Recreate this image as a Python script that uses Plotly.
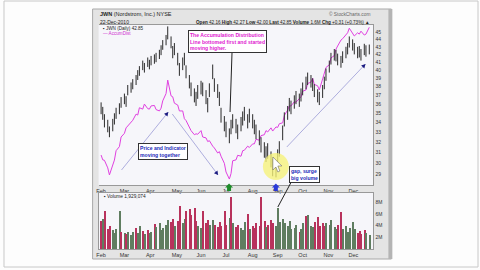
import math
import pandas as pd
import plotly.graph_objects as go

W, H = 480, 270

# ---------------- data ----------------
lows = [34.9, 34.3, 33.5, 33.0, 32.5, 33.1, 33.8, 34.4, 34.9, 35.6,
        36.0, 35.7, 37.0, 37.3, 37.7, 38.2, 38.8, 39.3, 40.0, 39.7,
        40.4, 40.1, 40.6, 40.8, 41.0, 41.4, 41.9, 42.6, 43.2, 44.0,
        42.8, 41.5, 41.9, 40.6, 39.3, 40.0, 40.6, 39.0, 37.8, 36.9,
        36.2, 35.8, 36.6, 37.1, 36.9, 36.0, 35.1, 36.8, 38.9, 37.4,
        36.7, 35.8, 34.0, 33.1, 32.5, 31.9, 32.8, 33.4, 32.9, 32.3,
        33.1, 33.7, 34.2, 33.4, 34.0, 33.4, 32.8, 32.3, 31.7, 31.0,
        30.5, 30.1, 30.4, 29.6, 28.8, 28.7, 29.8, 30.6, 32.2, 33.6,
        34.3, 35.2, 34.9, 35.5, 36.0, 35.7, 36.3, 37.0, 37.7, 38.2,
        37.9, 37.5, 36.8, 36.2, 35.9, 36.7, 37.7, 38.7, 39.7, 40.7,
        41.2, 41.1, 40.6, 40.3, 40.9, 41.5, 42.0, 42.9, 42.5, 42.0,
        41.5, 41.6, 41.2, 41.9, 41.7, 42.0]
highs = [36.2, 35.7, 34.9, 34.3, 33.6, 34.4, 35.0, 35.6, 36.1, 36.8,
         37.2, 36.9, 38.2, 38.5, 38.9, 39.4, 40.0, 40.5, 41.2, 40.9,
         41.6, 41.3, 41.8, 42.0, 42.2, 42.6, 43.2, 43.9, 44.6, 45.8,
         44.4, 43.1, 43.5, 42.2, 40.9, 41.6, 42.2, 40.6, 39.4, 38.5,
         37.8, 37.4, 38.2, 38.7, 38.5, 37.6, 36.7, 38.4, 40.7, 39.0,
         38.3, 37.4, 35.6, 34.7, 34.1, 33.4, 34.3, 34.9, 34.4, 33.8,
         34.6, 35.2, 35.7, 34.9, 35.5, 34.9, 34.3, 33.8, 33.2, 32.5,
         32.0, 31.6, 31.9, 31.1, 30.4, 30.2, 31.3, 32.1, 33.7, 35.1,
         35.8, 36.7, 36.4, 37.0, 37.5, 37.2, 37.8, 38.5, 39.2, 39.7,
         39.4, 39.0, 38.3, 37.7, 37.4, 38.2, 39.2, 40.2, 41.2, 42.2,
         42.7, 42.6, 42.1, 41.8, 42.4, 43.0, 43.5, 44.4, 44.0, 43.5,
         43.0, 43.1, 42.7, 43.4, 43.2, 43.3]
accum_dist = [3.1, 1.0, 0.8, -2.5, -5.6, -1.5, 0.9, 5.0, 6.8, 11.0,
              12.6, 15.0, 15.8, 17.6, 18.3, 21.0, 20.6, 23.8, 23.2, 25.4,
              23.4, 23.2, 24.6, 24.8, 23.0, 22.4, 23.6, 26.8, 30.0, 35.9,
              29.0, 28.6, 25.8, 25.0, 22.4, 22.4, 19.0, 18.2, 15.0, 13.8,
              12.0, 12.4, 12.2, 13.8, 11.0, 10.6, 9.0, 9.4, 7.0, 6.2,
              4.0, 4.6, 2.6, -0.5, -4.3, -7.4, -5.0, 0.6, 1.0, 3.0,
              2.6, 5.0, 5.2, 7.0, 6.4, 8.0, 8.0, 10.0, 9.6, 11.6,
              12.0, 13.8, 13.2, 15.0, 13.6, 15.4, 15.2, 16.8, 17.2, 20.4,
              22.8, 24.6, 24.6, 26.4, 26.2, 28.0, 28.6, 31.0, 31.6, 34.4,
              35.0, 36.8, 34.0, 33.4, 31.6, 36.4, 39.0, 41.4, 42.6, 45.6,
              46.6, 49.4, 50.8, 53.4, 54.0, 56.0, 56.6, 58.6, 56.6, 55.2,
              56.6, 56.0, 57.3, 55.6, 56.0, 59.0]
volume_m = [4.8, 5.2, 6.6, 3.5, 4.0, 3.2, 2.8, 3.4, 6.5, 3.0,
            2.8, 2.6, 3.0, 2.4, 2.9, 3.6, 2.7, 4.0, 3.1, 2.5,
            3.3, 2.7, 3.0, 4.3, 3.8, 4.4, 3.2, 3.6, 4.2, 5.0,
            4.6, 5.2, 3.9, 4.8, 7.4, 4.5, 5.1, 6.5, 6.9, 5.8,
            7.0, 4.8, 4.0, 3.6, 6.6, 4.4, 5.0, 4.2, 4.9, 4.1,
            3.8, 4.6, 4.0, 6.6, 4.2, 5.4, 9.0, 4.5, 3.8, 4.1,
            3.6, 3.2, 4.7, 6.0, 3.4, 4.0, 3.6, 4.4, 3.9, 9.0,
            4.8, 3.8, 4.2, 5.0, 4.4, 4.0, 7.0, 4.6, 5.2, 4.4,
            3.9, 4.8, 3.5, 3.6, 4.1, 3.0, 3.4, 4.5, 5.7, 5.8,
            3.9, 3.7, 4.6, 5.5, 4.0, 4.4, 3.9, 4.5, 4.2, 4.9,
            3.8, 3.5, 4.2, 6.3, 3.4, 3.9, 3.0, 3.6, 4.6, 3.4,
            2.8, 3.1, 2.6, 3.3, 2.7, 2.4]
# direction flag per bar (r = down / red, g = up / green)
volume_dir = list("rgrrrggggr" "grgggrggrg" "rggrgggggg" "rrgrrggrrr"
                  "rrggrrrggr" "rrrrrgrgrr" "gggrgrrrrr" "rgrrrggggg"
                  "gggggrggrg" "ggrrrrrggg" "ggrrgggggg" "rrrrgggggr"
                  "rgrgrg")
month_starts = ["2010-02-01", "2010-03-01", "2010-04-01", "2010-05-03", "2010-06-01",
                "2010-07-01", "2010-08-02", "2010-09-01", "2010-10-01", "2010-11-01",
                "2010-12-01"]
month_labels = ["Feb", "Mar", "Apr", "May", "Jun", "Jul", "Aug", "Sep", "Oct", "Nov", "Dec"]
price_ticks = [29, 30, 31, 32, 33, 34, 35, 36, 37, 38, 39, 40, 41, 42, 43, 44, 45]
volume_ticks = [2, 4, 6, 8]
volume_tick_labels = ["2M", "4M", "6M", "8M"]

dates = pd.bdate_range("2010-02-01", periods=len(lows), freq="2B")

# ---------------- helpers (layout positions in pixels) ----------------
def px(x):
    return x / W

def py(y):
    return 1 - y / H

def rect(x0, y0, x1, y1, fill, line="rgba(0,0,0,0)", lw=0, layer="below"):
    return dict(type="rect", xref="paper", yref="paper", x0=px(x0), x1=px(x1),
                y0=py(y1), y1=py(y0), fillcolor=fill, line=dict(color=line, width=lw),
                layer=layer)

def seg(x0, y0, x1, y1, color, lw=1):
    return dict(type="line", xref="paper", yref="paper", x0=px(x0), y0=py(y0),
                x1=px(x1), y1=py(y1), line=dict(color=color, width=lw), layer="above")

def poly(points, fill, line="rgba(0,0,0,0)", lw=0):
    d = "M " + " L ".join(f"{px(x):.5f},{py(y):.5f}" for x, y in points) + " Z"
    return dict(type="path", xref="paper", yref="paper", path=d, fillcolor=fill,
                line=dict(color=line, width=lw), layer="above")

def head(x0, y0, x1, y1, color, size=4.0):
    ang = math.atan2(y1 - y0, x1 - x0)
    bx_, by_ = x1 - size * math.cos(ang), y1 - size * math.sin(ang)
    nx, ny = -math.sin(ang) * size * 0.55, math.cos(ang) * size * 0.55
    return poly([(x1, y1), (bx_ + nx, by_ + ny), (bx_ - nx, by_ - ny)], color)

def text(x, y, s, size=5, color="#222", xanchor="left", yanchor="middle", **kw):
    return dict(xref="paper", yref="paper", x=px(x), y=py(y), text=s, showarrow=False,
                xanchor=xanchor, yanchor=yanchor,
                font=dict(family="Liberation Sans, Arial", size=size, color=color), **kw)

# ---------------- traces ----------------
bx, by = [], []
for d, lo, hi in zip(dates, lows, highs):
    bx += [d, d, None]
    by += [lo, hi, None]

fig = go.Figure()
fig.add_trace(go.Scatter(x=list(dates), y=accum_dist, mode="lines", yaxis="y",
                         line=dict(color="#e040e0", width=1), hoverinfo="skip"))
fig.add_trace(go.Scatter(x=bx, y=by, mode="lines", yaxis="y3",
                         line=dict(color="#2a2a2a", width=1), hoverinfo="skip"))
vcol = ["#b8325c" if c == "r" else "#5f7d60" for c in volume_dir]
fig.add_trace(go.Bar(x=list(dates), y=volume_m, xaxis="x2", yaxis="y2",
                     marker=dict(color=vcol, line=dict(width=0)),
                     width=1.6 * 86400000))

xr = ["2010-01-29", "2010-12-25"]
tickfont = dict(family="Liberation Sans, Arial", size=5.5, color="#333")
fig.update_layout(
    width=W, height=H, margin=dict(l=0, r=0, t=0, b=0),
    paper_bgcolor="#fdfdfd", plot_bgcolor="rgba(0,0,0,0)",
    showlegend=False, bargap=0,
    xaxis=dict(domain=[px(97), px(373)], range=xr, type="date", anchor="y",
               tickvals=month_starts, ticktext=month_labels, tickfont=tickfont,
               ticks="", showgrid=False, showline=True, linecolor="#999", mirror=True,
               zeroline=False),
    xaxis2=dict(domain=[px(97), px(373)], range=xr, type="date", anchor="y2",
                tickvals=month_starts, ticktext=month_labels, tickfont=tickfont,
                ticks="", showgrid=False, showline=True, linecolor="#999", mirror=True,
                zeroline=False),
    yaxis=dict(domain=[py(185), py(25)], range=[-10, 60], visible=False),
    yaxis3=dict(overlaying="y", anchor="x", side="right", type="log",
                range=[math.log10(28.03), math.log10(46.0)],
                tickvals=price_ticks, ticktext=[str(t) for t in price_ticks],
                tickfont=dict(family="Liberation Sans, Arial", size=5, color="#333"),
                ticks="", showgrid=False, showline=True, linecolor="#999", zeroline=False),
    yaxis2=dict(domain=[py(249), py(193)], range=[0, 9.6], anchor="x2", side="right",
                tickvals=volume_ticks, ticktext=volume_tick_labels,
                tickfont=dict(family="Liberation Sans, Arial", size=5, color="#333"),
                ticks="", showgrid=False, showline=True, linecolor="#999", mirror=True,
                zeroline=False),
)

shapes = [
    rect(2, 1, 478, 267, "#fdfdfd", "#c8c8c8", 1),
    rect(91, 9, 391, 259, "#e4e4e4", "#a8a8a8", 1),
    rect(388, 9, 392, 259, "#b4b4b4"),
    rect(97, 25, 373, 185, "#f6f6fa"),
    rect(97, 193, 373, 249, "#f6f6fa"),
    # yellow highlight circle
    dict(type="circle", xref="paper", yref="paper", x0=px(262), x1=px(288),
         y0=py(180), y1=py(153), fillcolor="rgba(246,242,120,0.78)",
         line=dict(width=0), layer="above"),
    # mouse pointer
    poly([(272, 157), (272, 170), (275, 167), (277, 172), (279, 171), (277, 166), (281, 166)],
         "#ffffff", "#555", 0.5),
    # arrow lines
    seg(231, 52, 229, 112, "#222", 1),
    seg(120, 170, 167, 112, "#9a9ad6", 0.8),
    head(120, 170, 167, 112, "#1a1a80"),
    seg(171, 114, 217, 175, "#9a9ad6", 0.8),
    head(171, 114, 217, 175, "#1a1a80"),
    seg(286, 147, 365, 64, "#9a9ad6", 0.8),
    head(286, 147, 365, 64, "#1a1a80"),
    seg(291, 181, 277, 207, "#222", 1),
    # event markers on the date strip
    poly([(228, 183.5), (232, 187.5), (230, 187.5), (230, 191), (226, 191), (226, 187.5), (224, 187.5)],
         "#1e8c2a"),
    poly([(275, 183.5), (279, 187.5), (277, 187.5), (277, 191), (273, 191), (273, 187.5), (271, 187.5)],
         "#2a3ad8"),
]
fig.update_layout(shapes=shapes)

anns = [
    text(96, 14.5, "<b>JWN</b> (Nordstrom, Inc.) NYSE", 5.5),
    text(96, 22, "22-Dec-2010", 5),
    text(372, 14.5, "© StockCharts.com", 4.8, "#666", xanchor="right"),
    text(372, 22, "<b>Open</b> 42.16 <b>High</b> 42.27 <b>Low</b> 42.00 <b>Last</b> 42.85 "
                  "<b>Volume</b> 1.6M <b>Chg</b> +0.31 (+0.73%) ▲", 4.6, xanchor="right"),
    text(99, 28.5, "▪ JWN (Daily) 42.85", 4.6),
    text(99, 33.5, "— AccumDist", 4.6, "#d030d0"),
    text(100, 196.5, "▪ Volume 1,929,074", 4.8),
    text(187, 30, "<b>The Accumulation Distribution<br>Line bottomed first and started<br>moving higher.</b>",
         5.1, "#e020d0", yanchor="top", bgcolor="#ffffff", bordercolor="#333",
         borderwidth=1, borderpad=1, align="left"),
    text(137, 143, "<b>Price and Indicator<br>moving together</b>", 5.1, "#1a2ab8",
         yanchor="top", bgcolor="#ffffff", bordercolor="#333", borderwidth=1,
         borderpad=1, align="left"),
    text(288, 166, "<b>gap, surge<br>big volume</b>", 5.1, "#1a2ab8", yanchor="top",
         bgcolor="#ffffff", bordercolor="#333", borderwidth=1, borderpad=1, align="left"),
]
fig.update_layout(annotations=anns)

fig.write_html("out.html")
